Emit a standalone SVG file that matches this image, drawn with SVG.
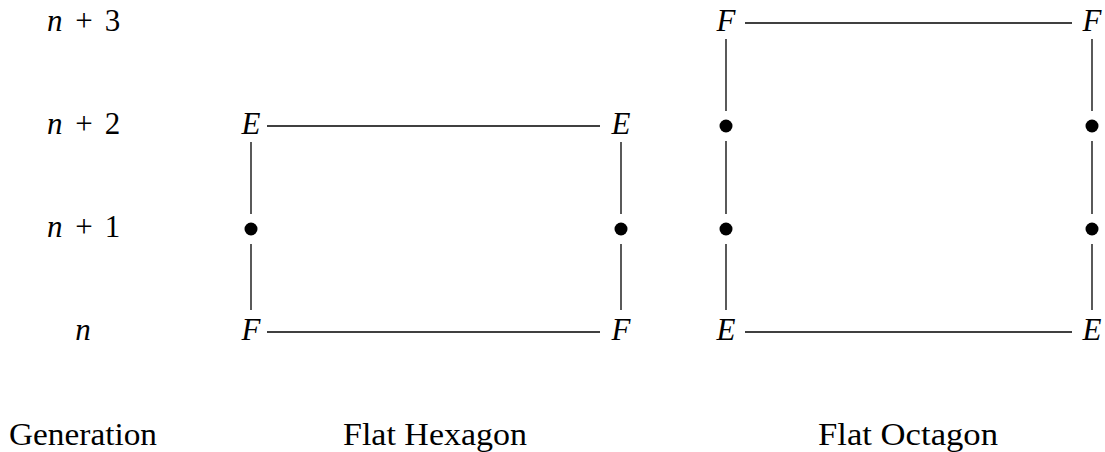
<svg xmlns="http://www.w3.org/2000/svg" width="1105" height="452" viewBox="0 0 1105 452">
<style>
text{font-family:'Liberation Serif','DejaVu Serif','Times New Roman',serif;fill:#000;font-size:31px}
.it{font-style:italic}
.m{text-anchor:middle}
.lbl{font-size:32px;text-anchor:middle}
.e{stroke:#000;stroke-width:1.3;fill:none}
.dot{fill:#000}
</style>
<rect width="1105" height="452" fill="#fff"/>
<g id="generation" font-family="Liberation Serif, DejaVu Serif, serif">
<text class="it" x="47" y="31">n</text><text class="m" x="84" y="31">+</text><text class="m" x="112.5" y="31">3</text>
<text class="it" x="47" y="134">n</text><text class="m" x="84" y="134">+</text><text class="m" x="112.5" y="134">2</text>
<text class="it" x="47" y="237">n</text><text class="m" x="84" y="237">+</text><text class="m" x="112.5" y="237">1</text>
<text class="it m" x="83" y="340">n</text>
</g>
<g id="connectors">
<line class="e" x1="267" y1="126" x2="600" y2="126"/>
<line class="e" x1="267" y1="332" x2="600" y2="332"/>
<line class="e" x1="251" y1="142" x2="251" y2="214"/>
<line class="e" x1="251" y1="244" x2="251" y2="310"/>
<line class="e" x1="621" y1="142" x2="621" y2="214"/>
<line class="e" x1="621" y1="244" x2="621" y2="310"/>
<line class="e" x1="745" y1="23" x2="1072" y2="23"/>
<line class="e" x1="745" y1="332" x2="1072" y2="332"/>
<line class="e" x1="726" y1="39" x2="726" y2="111"/>
<line class="e" x1="726" y1="141" x2="726" y2="214"/>
<line class="e" x1="726" y1="244" x2="726" y2="310"/>
<line class="e" x1="1092" y1="39" x2="1092" y2="111"/>
<line class="e" x1="1092" y1="141" x2="1092" y2="214"/>
<line class="e" x1="1092" y1="244" x2="1092" y2="310"/>
</g>
<g id="hex-E-left"><text class="it m" x="251" y="134">E</text></g>
<g id="hex-E-right"><text class="it m" x="621" y="134">E</text></g>
<g id="hex-dot-left"><circle class="dot" cx="251" cy="229" r="6.5"/></g>
<g id="hex-dot-right"><circle class="dot" cx="621" cy="229" r="6.5"/></g>
<g id="hex-F-left"><text class="it m" x="251" y="340">F</text></g>
<g id="hex-F-right"><text class="it m" x="621" y="340">F</text></g>
<g id="oct-F-left"><text class="it m" x="726" y="31">F</text></g>
<g id="oct-F-right"><text class="it m" x="1092" y="31">F</text></g>
<g id="oct-dot-l2"><circle class="dot" cx="726" cy="126" r="6.5"/></g>
<g id="oct-dot-r2"><circle class="dot" cx="1092" cy="126" r="6.5"/></g>
<g id="oct-dot-l1"><circle class="dot" cx="726" cy="229" r="6.5"/></g>
<g id="oct-dot-r1"><circle class="dot" cx="1092" cy="229" r="6.5"/></g>
<g id="oct-E-left"><text class="it m" x="726" y="340">E</text></g>
<g id="oct-E-right"><text class="it m" x="1092" y="340">E</text></g>
<g id="captions">
<text class="lbl" x="83" y="445" textLength="148" lengthAdjust="spacingAndGlyphs">Generation</text>
<text class="lbl" x="435" y="445" textLength="184" lengthAdjust="spacingAndGlyphs">Flat Hexagon</text>
<text class="lbl" x="908" y="445" textLength="180" lengthAdjust="spacingAndGlyphs">Flat Octagon</text>
</g>
</svg>
